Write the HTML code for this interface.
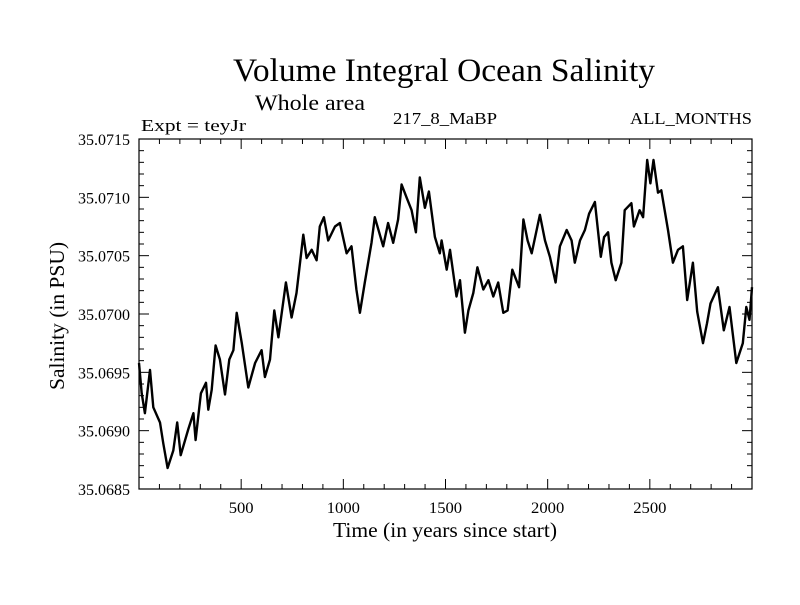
<!DOCTYPE html>
<html><head><meta charset="utf-8"><style>
body{margin:0;background:#fff;}
svg text{font-family:"Liberation Serif",serif;fill:#000;}
</style></head><body>
<svg width="800" height="600" xmlns="http://www.w3.org/2000/svg">
<text x="233" y="81" font-size="33" textLength="422" lengthAdjust="spacingAndGlyphs">Volume Integral Ocean Salinity</text>
<text x="255" y="110" font-size="22" textLength="110" lengthAdjust="spacingAndGlyphs">Whole area</text>
<text x="141" y="131" font-size="17" textLength="105" lengthAdjust="spacingAndGlyphs">Expt = teyJr</text>
<text x="393" y="124" font-size="17" textLength="104" lengthAdjust="spacingAndGlyphs">217_8_MaBP</text>
<text x="630" y="124" font-size="17" textLength="122" lengthAdjust="spacingAndGlyphs">ALL_MONTHS</text>
<g id="axes"></g>
<path id="line" fill="none" stroke="#000" stroke-width="2.4" stroke-linejoin="round"/>
<rect x="139" y="139" width="613" height="350" fill="none" stroke="#000" stroke-width="1.2"/>
<text x="333" y="537" font-size="21" textLength="224" lengthAdjust="spacingAndGlyphs">Time (in years since start)</text>
<text x="0" y="0" font-size="21" text-anchor="middle" textLength="148" lengthAdjust="spacingAndGlyphs" transform="translate(64,316) rotate(-90)">Salinity (in PSU)</text>
</svg>
<script>
const years=[0,13,29,54,70,103,119,140,168,187,204,241,266,277,303,328,339,356,375,396,421,442,462,478,503,535,568,600,616,641,662,682,719,747,771,804,820,845,869,885,905,926,959,983,1016,1040,1064,1081,1105,1138,1154,1195,1219,1244,1268,1285,1309,1334,1355,1374,1399,1419,1448,1472,1481,1506,1522,1554,1571,1595,1612,1636,1656,1685,1710,1734,1758,1783,1804,1827,1860,1881,1902,1922,1962,1987,2011,2039,2060,2093,2117,2133,2158,2182,2203,2231,2260,2276,2296,2312,2333,2361,2377,2410,2422,2450,2467,2487,2503,2518,2540,2556,2589,2613,2638,2662,2683,2711,2732,2760,2780,2797,2833,2862,2890,2923,2955,2972,2988,3000];
const salinity=[35.06958,35.06932,35.06915,35.06952,35.0692,35.06907,35.06889,35.06868,35.06883,35.06907,35.06879,35.06901,35.06915,35.06892,35.06932,35.06941,35.06918,35.06935,35.06973,35.06961,35.06931,35.06961,35.06969,35.07001,35.06975,35.06937,35.06958,35.06969,35.06946,35.06961,35.07003,35.0698,35.07027,35.06997,35.07018,35.07068,35.07048,35.07055,35.07046,35.07075,35.07083,35.07063,35.07075,35.07078,35.07052,35.07058,35.07021,35.07001,35.07027,35.07061,35.07083,35.07058,35.07078,35.07061,35.07081,35.07111,35.071,35.07089,35.0707,35.07117,35.07091,35.07105,35.07066,35.07052,35.07063,35.07038,35.07055,35.07015,35.07029,35.06984,35.07003,35.07018,35.0704,35.07021,35.07029,35.07015,35.07027,35.07001,35.07003,35.07038,35.07023,35.07081,35.07063,35.07052,35.07085,35.07063,35.07049,35.07027,35.07058,35.07072,35.07063,35.07044,35.07063,35.07072,35.07086,35.07096,35.07049,35.07066,35.0707,35.07044,35.07029,35.07044,35.07089,35.07095,35.07075,35.07089,35.07083,35.07132,35.07112,35.07132,35.07104,35.07106,35.07072,35.07044,35.07055,35.07058,35.07012,35.07044,35.07002,35.06975,35.06992,35.07009,35.07023,35.06986,35.07006,35.06958,35.06975,35.07006,35.06995,35.07023];
const xTicks=[500,1000,1500,2000,2500];
const yTicks=[35.0685,35.069,35.0695,35.07,35.0705,35.071,35.0715];
const X0=139,X1=752,XMAX=3000,Y0=489,Y1=139,YMIN=35.0685,YMAX=35.0715;
const sx=v=>X0+v/XMAX*(X1-X0);
const sy=v=>Y0-(v-YMIN)/(YMAX-YMIN)*(Y0-Y1);
const ns="http://www.w3.org/2000/svg";
const g=document.getElementById('axes');
function ln(x1,y1,x2,y2,name){const l=document.createElementNS(ns,'line');
l.setAttribute('x1',x1);l.setAttribute('y1',y1);l.setAttribute('x2',x2);l.setAttribute('y2',y2);
l.setAttribute('stroke','#000');l.setAttribute('stroke-width','1');


g.appendChild(l);}
function tx(x,y,s,anchor,name,len){const t=document.createElementNS(ns,'text');
t.setAttribute('x',x);t.setAttribute('y',y);t.setAttribute('font-size','16');t.setAttribute('text-anchor',anchor);
t.setAttribute('textLength',len);t.setAttribute('lengthAdjust','spacingAndGlyphs');t.textContent=s;


g.appendChild(t);}
for(let yr=100;yr<XMAX;yr+=100){const x=sx(yr);const major=yr%500===0;const L=major?10:5;
ln(x,Y0,x,Y0-L,'x-tick');ln(x,Y1,x,Y1+L,'x-tick-top');}
xTicks.forEach(v=>{const s=String(v);tx(sx(v),513,s,'middle','x-tick-label',s.length*8.3);});
for(let i=0;i<=30;i++){const v=YMIN+i*0.0001;const y=sy(v);const major=i%5===0;const L=major?10:5;
ln(X0,y,X0+L,y,'y-tick');ln(X1,y,X1-L,y,'y-tick-right');}
yTicks.forEach(v=>tx(130,sy(v)+6,v.toFixed(4),'end','y-tick-label',52));
let d='';years.forEach((yr,i)=>{d+=(i?'L':'M')+sx(yr).toFixed(1)+','+sy(salinity[i]).toFixed(1);});
document.getElementById('line').setAttribute('d',d);
</script>
</body></html>
